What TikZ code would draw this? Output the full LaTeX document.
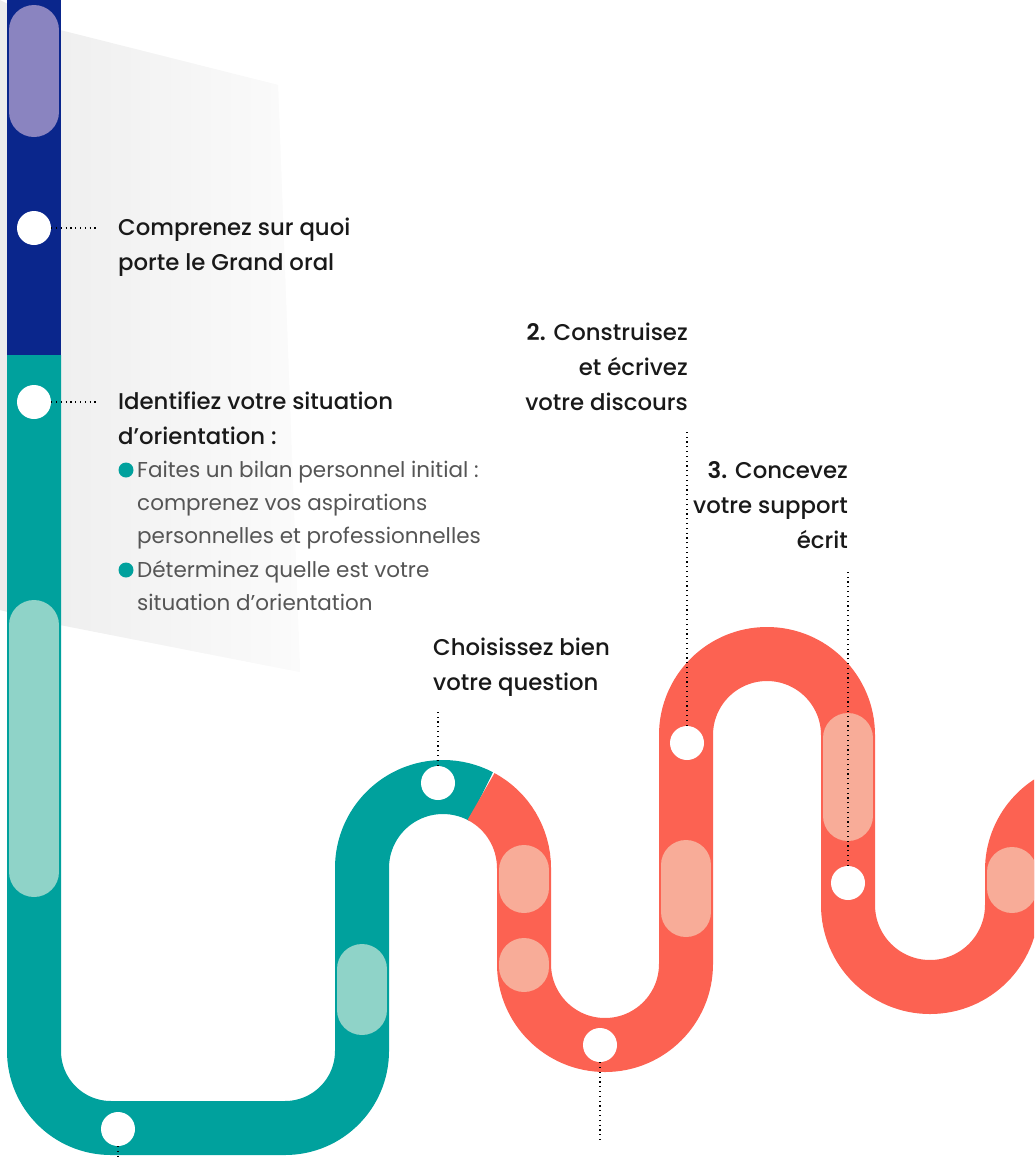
\documentclass[tikz,border=0pt]{standalone}
\usepackage{fontspec}
\setmainfont{Poppins}
\newfontfamily\headfont{Poppins}[UprightFont={* Medium}, BoldFont={* SemiBold}]
\usetikzlibrary{calc}
\definecolor{trackblue}{RGB}{10,38,140}
\definecolor{trackteal}{RGB}{0,161,157}
\definecolor{trackred}{RGB}{252,98,82}
\definecolor{pillblue}{RGB}{138,132,192}
\definecolor{pillteal}{RGB}{143,211,200}
\definecolor{pillred}{RGB}{248,172,152}
\definecolor{txt}{RGB}{25,25,25}
\definecolor{txtgrey}{RGB}{85,85,85}
\definecolor{fanleft}{RGB}{236,236,236}
\definecolor{fanright}{RGB}{251,251,251}
\newcommand{\blocktext}[2]{\begin{tabular}[t]{@{}#1@{}}#2\end{tabular}}
\begin{document}
\begin{tikzpicture}[x=1pt,y=-1pt,
  track/.style={line width=54pt},
  pill/.style={line width=50pt, line cap=round},
  stopdot/.style={circle, fill=white, minimum size=34pt, inner sep=0pt},
  bulletdot/.style={circle, fill=trackteal, minimum size=15pt, inner sep=0pt},
  leader/.style={line width=1.2pt, dash pattern=on 1.2pt off 3.6pt, black},
  head/.style={font=\headfont\fontsize{22.8}{35}\selectfont, text=txt, inner sep=0pt},
  body/.style={font=\fontsize{21.5}{33}\selectfont, text=txtgrey, inner sep=0pt}]
\useasboundingbox (0,0) rectangle (1034,1157);
\clip (0,0) rectangle (1034,1157);
% grey fan
\fill[fanright] (0,0) -- (60,30) -- (278,85) -- (300,672) -- (60,625) -- (0,610) -- cycle;
\shade[left color=fanleft, right color=fanright] (0,0) -- (60,30) -- (278,85) -- (300,672) -- (60,625) -- (0,610) -- cycle;
% track
\draw[track, trackblue] (34,-5) -- (34,355);
\draw[track, trackteal] (34,355) -- (34,1051) arc[start angle=180, end angle=90, radius=77]
  -- (285,1128) arc[start angle=90, end angle=0, radius=77]
  -- (362,868) arc[start angle=180, end angle=298, radius=81];
\draw[track, trackred] ($(443,868)+(298:81)$) arc[start angle=298, end angle=360, radius=81]
  -- (524,964) arc[start angle=180, end angle=0, radius=81]
  -- (686,735) arc[start angle=180, end angle=360, radius=81]
  -- (848,905) arc[start angle=180, end angle=0, radius=82]
  -- (1012,870) arc[start angle=180, end angle=262, radius=81];
% pills
\draw[pill, pillblue] (34,30) -- (34,112);
\draw[pill, pillteal] (34,625) -- (34,872);
\draw[pill, pillteal] (362,969) -- (362,1010);
\draw[pill, pillred] (524,870) -- (524,888);
\draw[pill, pillred] (524,963) -- (524,967);
\draw[pill, pillred] (686,865) -- (686,912);
\draw[pill, pillred] (848,738) -- (848,816);
\draw[pill, pillred] (1012,872) -- (1012,888);
% stops
\node[stopdot] (d1) at (34,228) {};
\node[stopdot] (d2) at (34,402) {};
\node[stopdot] (d3) at (118,1129) {};
\node[stopdot] (d4) at (438,783) {};
\node[stopdot] (d5) at (600,1045) {};
\node[stopdot] (d6) at (687,743) {};
\node[stopdot] (d7) at (848,883) {};
% leader ends
\coordinate (l1) at (96,228);
\coordinate (l2) at (96,402);
\coordinate (l3) at (118,1160);
\coordinate (l4) at (438,712);
\coordinate (l5) at (600,1140);
\coordinate (l6) at (687,432);
\coordinate (l7) at (848,572);
\draw[leader] (d1) -- (l1);
\draw[leader] (d2) -- (l2);
\draw[leader] (d3) -- (l3);
\draw[leader] (d4) -- (l4);
\draw[leader] (d5) -- (l5);
\draw[leader] (d6) -- (l6);
\draw[leader] (d7) -- (l7);
% texts
\node[head, anchor=base west] (t1) at (118,235) {\blocktext{l}{Comprenez sur quoi\\porte le Grand oral}};
\node[head, anchor=base west] (t2) at (118,409) {\blocktext{l}{Identifiez votre situation\\d’orientation :}};
\node[bulletdot] (b1) at (126,470) {};
\node[body, anchor=base west] (t2a) at (137,477) {\blocktext{l}{Faites un bilan personnel initial :\\comprenez vos aspirations\\personnelles et professionnelles}};
\node[bulletdot] (b2) at (126,570) {};
\node[body, anchor=base west] (t2b) at (137,577) {\blocktext{l}{Déterminez quelle est votre\\situation d’orientation}};
\node[head, anchor=base west] (t3) at (433,655) {\blocktext{l}{Choisissez bien\\votre question}};
\node[head, anchor=base east] (t4) at (688,340) {\blocktext{r}{\textbf{2.} Construisez\\et écrivez\\votre discours}};
\node[head, anchor=base east] (t5) at (848,478) {\blocktext{r}{\textbf{3.} Concevez\\votre support\\écrit}};
\end{tikzpicture}
\end{document}
